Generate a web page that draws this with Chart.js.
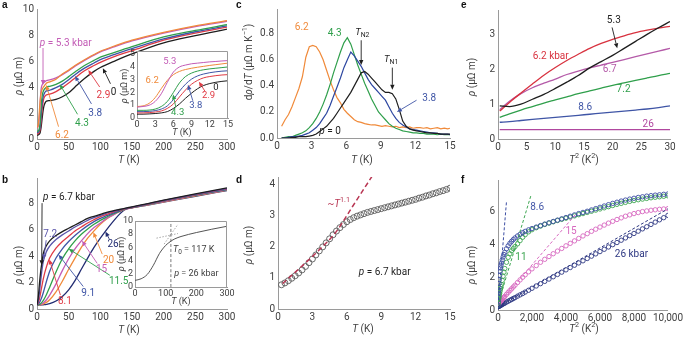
<!DOCTYPE html>
<html>
<head>
<meta charset="utf-8">
<script src="https://cdn.jsdelivr.net/npm/chart.js@4.4.1/dist/chart.umd.min.js"></script>
<style>
  body { margin: 0; background: #fff; }
  #fig { position: relative; width: 685px; height: 337px; overflow: hidden; background: #fff; }
  #fig canvas { position: absolute; left: 0; top: 0; }
  .tag { position: absolute; font: bold 10px 'Liberation Sans', Arial, sans-serif; color: #111; }
</style>
</head>
<body>
<div id="fig">
  <canvas id="pa" width="685" height="337"></canvas>
  <canvas id="pai" width="685" height="337"></canvas>
  <canvas id="pb" width="685" height="337"></canvas>
  <canvas id="pbi" width="685" height="337"></canvas>
  <canvas id="pc" width="685" height="337"></canvas>
  <canvas id="pd" width="685" height="337"></canvas>
  <canvas id="pe" width="685" height="337"></canvas>
  <canvas id="pf" width="685" height="337"></canvas>
  <div class="tag" style="left:2px;top:-1px">a</div>
  <div class="tag" style="left:2px;top:174px">b</div>
  <div class="tag" style="left:236px;top:-1px">c</div>
  <div class="tag" style="left:236px;top:174px">d</div>
  <div class="tag" style="left:461px;top:-1px">e</div>
  <div class="tag" style="left:461px;top:174px">f</div>
</div>
<script>
// ---- panel a: rho(T) at low pressure (inset = low-T part) ----
const aLoT = [0, 1, 2, 3, 4, 5, 6, 7, 8, 9, 10, 11, 12, 13, 14, 15];
const aLo0 = [0.3, 0.3, 0.32, 0.35, 0.4, 0.5, 0.75, 1.1, 1.55, 1.95, 2.3, 2.55, 2.7, 2.8, 2.87, 2.92];
const aLo29 = [0.4, 0.4, 0.42, 0.47, 0.55, 0.75, 1.1, 1.65, 2.2, 2.65, 2.95, 3.15, 3.25, 3.32, 3.37, 3.4];
const aLo38 = [0.5, 0.5, 0.52, 0.58, 0.7, 0.95, 1.45, 2.1, 2.65, 3.05, 3.3, 3.45, 3.55, 3.62, 3.67, 3.7];
const aLo43 = [0.6, 0.6, 0.62, 0.7, 0.9, 1.3, 2.0, 2.75, 3.25, 3.52, 3.68, 3.78, 3.85, 3.9, 3.95, 4.0];
const aLo53 = [0.85, 0.9, 1.0, 1.3, 1.9, 2.8, 3.6, 4.0, 4.15, 4.25, 4.3, 4.35, 4.4, 4.43, 4.47, 4.5];
const aLo62 = [0.9, 0.95, 1.15, 1.6, 2.3, 2.95, 3.4, 3.65, 3.8, 3.9, 3.98, 4.05, 4.12, 4.18, 4.24, 4.3];
const aHiT = [20, 30, 40, 50, 60, 75, 90, 100, 125, 150, 200, 250, 300];
const aHi0 = [2.95, 3.05, 3.25, 3.55, 4.0, 4.65, 5.2, 5.5, 6.05, 6.55, 7.4, 7.95, 8.45];
const aHi29 = [3.45, 3.65, 3.95, 4.3, 4.7, 5.25, 5.65, 5.9, 6.4, 6.8, 7.6, 8.15, 8.6];
const aHi38 = [3.75, 3.95, 4.2, 4.55, 4.95, 5.45, 5.85, 6.1, 6.55, 6.95, 7.7, 8.25, 8.7];
const aHi43 = [4.05, 4.2, 4.45, 4.8, 5.15, 5.65, 6.05, 6.3, 6.7, 7.1, 7.85, 8.35, 8.8];
const aHi53 = [4.55, 4.7, 4.95, 5.25, 5.6, 6.05, 6.45, 6.7, 7.15, 7.55, 8.15, 8.65, 9.05];
const aHi62 = [4.4, 4.6, 5.0, 5.3, 5.65, 6.1, 6.5, 6.75, 7.2, 7.6, 8.2, 8.7, 9.1];

// ---- panel b: rho(T) at high pressure ----
const bT = [0, 2, 4, 6, 8, 10, 15, 20, 30, 40, 50, 60, 70, 80, 90, 100, 110, 120, 130, 140, 150, 175, 200, 250, 300];
const b67 = [0.3, 0.9, 2.0, 2.9, 3.6, 4.2, 4.8, 5.15, 5.55, 5.85, 6.1, 6.35, 6.6, 6.85, 7.0, 7.15, 7.3, 7.42, 7.52, 7.62, 7.72, 7.97, 8.22, 8.7, 9.15];
const b72 = [0.3, 0.6, 1.3, 2.2, 3.0, 3.6, 4.35, 4.75, 5.25, 5.6, 5.9, 6.2, 6.45, 6.7, 6.9, 7.08, 7.25, 7.38, 7.5, 7.6, 7.7, 7.95, 8.2, 8.67, 9.1];
const b81 = [0.3, 0.45, 0.8, 1.3, 1.8, 2.3, 3.2, 3.85, 4.6, 5.1, 5.5, 5.9, 6.2, 6.5, 6.75, 6.98, 7.15, 7.32, 7.47, 7.58, 7.68, 7.93, 8.18, 8.65, 9.08];
const b91 = [0.3, 0.35, 0.5, 0.7, 0.95, 1.25, 2.1, 2.85, 3.85, 4.55, 5.1, 5.55, 5.95, 6.3, 6.6, 6.85, 7.05, 7.25, 7.42, 7.56, 7.67, 7.92, 8.17, 8.63, 9.05];
const b115 = [0.3, 0.3, 0.35, 0.42, 0.52, 0.65, 1.1, 1.65, 2.8, 3.8, 4.55, 5.15, 5.65, 6.05, 6.4, 6.7, 6.95, 7.18, 7.38, 7.55, 7.66, 7.9, 8.15, 8.6, 9.02];
const b15 = [0.3, 0.3, 0.32, 0.35, 0.4, 0.47, 0.7, 1.05, 1.9, 2.9, 3.8, 4.55, 5.15, 5.7, 6.15, 6.5, 6.85, 7.1, 7.35, 7.53, 7.65, 7.88, 8.12, 8.58, 9.0];
const b20 = [0.3, 0.3, 0.3, 0.32, 0.34, 0.38, 0.5, 0.7, 1.3, 2.1, 3.0, 3.85, 4.65, 5.35, 5.9, 6.4, 6.8, 7.1, 7.35, 7.55, 7.65, 7.87, 8.1, 8.55, 8.98];
const b26 = [0.3, 0.3, 0.3, 0.3, 0.31, 0.32, 0.35, 0.4, 0.6, 0.95, 1.45, 2.15, 3.0, 3.85, 4.65, 5.35, 6.0, 6.6, 7.15, 7.55, 7.66, 7.86, 8.08, 8.52, 8.95];
// inset b (26 kbar)
const biT = [0, 20, 40, 60, 80, 100, 110, 120, 130, 150, 200, 250, 300];
const biRho = [1.0, 1.25, 1.9, 3.3, 5.1, 6.3, 6.7, 7.05, 7.3, 7.65, 8.25, 8.75, 9.2];
const biT0 = [117, 117];
const biT0Rho = [0, 10];
const biLowT = [70, 140];
const biLow = [7.4, 8.1];
const biHighT = [95, 140];
const biHigh = [6.5, 9.5];

// ---- panel c: d rho / dT ----
const cT = [0.4, 0.7, 1.0, 1.3, 1.6, 1.9, 2.2, 2.5, 2.8, 3.1, 3.4, 3.7, 4.0, 4.3, 4.6, 4.9, 5.2, 5.5, 5.8, 6.1,
  6.4, 6.7, 7.0, 7.3, 7.6, 7.9, 8.2, 8.5, 8.8, 9.1, 9.4, 9.7, 10.0, 10.3, 10.6, 10.9, 11.2, 11.5, 11.8, 12.1,
  12.4, 12.7, 13.0, 13.3, 13.6, 13.9, 14.2, 14.5, 14.8, 15.0];
const c62 = [0.09, 0.14, 0.18, 0.24, 0.31, 0.38, 0.47, 0.62, 0.70, 0.71, 0.70, 0.66, 0.60, 0.52, 0.44, 0.37, 0.31, 0.27, 0.22, 0.19,
  0.165, 0.14, 0.125, 0.12, 0.11, 0.105, 0.10, 0.10, 0.095, 0.09, 0.095, 0.09, 0.085, 0.09, 0.08, 0.085, 0.08, 0.085, 0.075, 0.08,
  0.08, 0.075, 0.08, 0.07, 0.075, 0.08, 0.07, 0.075, 0.07, 0.075];
const c43 = [0.0, 0.005, 0.01, 0.01, 0.02, 0.03, 0.04, 0.055, 0.08, 0.11, 0.15, 0.2, 0.26, 0.33, 0.41, 0.5, 0.58, 0.66, 0.73, 0.77,
  0.72, 0.64, 0.56, 0.49, 0.42, 0.36, 0.3, 0.25, 0.2, 0.17, 0.14, 0.11, 0.09, 0.075, 0.065, 0.055, 0.05, 0.045, 0.04, 0.04,
  0.035, 0.035, 0.03, 0.03, 0.03, 0.025, 0.03, 0.025, 0.025, 0.025];
const c38 = [0.0, 0.0, 0.005, 0.01, 0.01, 0.015, 0.02, 0.03, 0.04, 0.06, 0.08, 0.11, 0.15, 0.19, 0.25, 0.32, 0.39, 0.46, 0.54, 0.6,
  0.66, 0.63, 0.59, 0.55, 0.5, 0.45, 0.41, 0.38, 0.35, 0.32, 0.29, 0.24, 0.19, 0.15, 0.12, 0.1, 0.085, 0.07, 0.065, 0.06,
  0.055, 0.05, 0.045, 0.04, 0.04, 0.035, 0.03, 0.03, 0.03, 0.025];
const c0 = [0.0, 0.0, 0.0, 0.005, 0.005, 0.01, 0.01, 0.01, 0.015, 0.02, 0.03, 0.05, 0.07, 0.09, 0.12, 0.15, 0.19, 0.23, 0.27, 0.31,
  0.35, 0.4, 0.45, 0.5, 0.51, 0.49, 0.46, 0.43, 0.4, 0.37, 0.35, 0.35, 0.34, 0.3, 0.22, 0.13, 0.09, 0.07, 0.06, 0.055,
  0.05, 0.045, 0.04, 0.04, 0.035, 0.035, 0.03, 0.03, 0.03, 0.03];

// ---- panel d: 6.7 kbar, low T ----
const dT = [0.3, 0.6, 0.9, 1.2, 1.5, 1.8, 2.1, 2.4, 2.7, 3.0, 3.3, 3.6, 3.9, 4.2, 4.5, 4.8, 5.1, 5.4, 5.7, 6.0,
  6.3, 6.6, 6.9, 7.2, 7.5, 7.8, 8.1, 8.4, 8.7, 9.0, 9.3, 9.6, 9.9, 10.2, 10.5, 10.8, 11.1, 11.4, 11.7, 12.0,
  12.3, 12.6, 12.9, 13.2, 13.5, 13.8, 14.1, 14.4, 14.7, 15.0];
const dRho = [0.78, 0.84, 0.91, 0.99, 1.07, 1.16, 1.26, 1.37, 1.49, 1.61, 1.74, 1.87, 2.0, 2.13, 2.26, 2.39, 2.51, 2.62, 2.72, 2.81,
  2.88, 2.94, 2.99, 3.03, 3.07, 3.11, 3.14, 3.17, 3.2, 3.23, 3.26, 3.29, 3.32, 3.35, 3.38, 3.41, 3.44, 3.47, 3.5, 3.53,
  3.57, 3.6, 3.64, 3.67, 3.71, 3.74, 3.78, 3.81, 3.85, 3.89];
const dFitT = [0.4, 2, 3.5, 5, 6.5, 8.6];
const dFit = [0.82, 1.35, 1.87, 2.45, 3.3, 4.5];

// ---- panel e: rho vs T^2 ----
const eX = [0.3, 2, 4, 6, 8, 10, 12, 14, 16, 18, 20, 22, 24, 26, 28, 30];
const e53 = [0.95, 0.93, 1.0, 1.14, 1.28, 1.45, 1.63, 1.82, 2.04, 2.22, 2.4, 2.6, 2.8, 3.0, 3.19, 3.37];
const e62 = [0.8, 1.05, 1.32, 1.58, 1.83, 2.05, 2.25, 2.43, 2.6, 2.74, 2.86, 2.96, 3.05, 3.12, 3.18, 3.23];
const e67 = [0.84, 1.08, 1.3, 1.47, 1.6, 1.72, 1.85, 1.95, 2.04, 2.12, 2.2, 2.28, 2.36, 2.44, 2.52, 2.6];
const e72 = [0.62, 0.72, 0.83, 0.93, 1.03, 1.12, 1.21, 1.3, 1.38, 1.46, 1.54, 1.61, 1.68, 1.75, 1.82, 1.88];
const e86 = [0.48, 0.5, 0.53, 0.56, 0.59, 0.62, 0.65, 0.68, 0.71, 0.74, 0.77, 0.8, 0.83, 0.86, 0.9, 0.95];
const e26 = [0.27, 0.27, 0.27, 0.27, 0.27, 0.27, 0.27, 0.27, 0.27, 0.27, 0.27, 0.27, 0.27, 0.27, 0.27, 0.27];

// ---- panel f: rho vs T^2, wide range ----
const fX = [0, 10, 20, 30, 40, 50, 65, 80, 100, 125, 150, 175, 200, 250, 300, 350, 400, 500, 600, 700,
  800, 900, 1000, 1150, 1300, 1450, 1600, 1800, 2000, 2250, 2500, 2750, 3000, 3250, 3500, 3750, 4000, 4250, 4500, 4750,
  5000, 5250, 5500, 5750, 6000, 6250, 6500, 6750, 7000, 7250, 7500, 7750, 8000, 8250, 8500, 8750, 9000, 9250, 9500, 9750, 10000];
const f86 = [0.3, 0.55, 0.8, 1.0, 1.2, 1.38, 1.62, 1.85, 2.1, 2.35, 2.55, 2.72, 2.85, 3.05, 3.22, 3.37, 3.5, 3.72, 3.9, 4.05,
  4.17, 4.28, 4.38, 4.5, 4.6, 4.7, 4.78, 4.87, 4.95, 5.04, 5.13, 5.22, 5.3, 5.38, 5.46, 5.54, 5.62, 5.7, 5.78, 5.86,
  5.93, 6.0, 6.08, 6.16, 6.24, 6.32, 6.4, 6.48, 6.55, 6.62, 6.68, 6.74, 6.79, 6.84, 6.88, 6.92, 6.95, 6.98, 7.0, 7.03, 7.05];
const f11 = [0.3, 0.38, 0.46, 0.54, 0.62, 0.7, 0.8, 0.9, 1.02, 1.17, 1.3, 1.43, 1.55, 1.8, 2.05, 2.3, 2.52, 2.9, 3.2, 3.42,
  3.6, 3.73, 3.85, 4.02, 4.22, 4.42, 4.58, 4.75, 4.88, 5.0, 5.1, 5.2, 5.28, 5.36, 5.44, 5.51, 5.58, 5.65, 5.72, 5.79,
  5.86, 5.93, 6.0, 6.07, 6.14, 6.21, 6.28, 6.35, 6.42, 6.48, 6.54, 6.6, 6.65, 6.7, 6.74, 6.78, 6.82, 6.85, 6.88, 6.91, 6.94];
const f15 = [0.35, 0.36, 0.37, 0.39, 0.4, 0.41, 0.43, 0.45, 0.47, 0.5, 0.53, 0.56, 0.59, 0.65, 0.71, 0.77, 0.83, 0.95, 1.07, 1.18,
  1.29, 1.4, 1.51, 1.67, 1.83, 1.99, 2.14, 2.32, 2.5, 2.7, 2.9, 3.08, 3.25, 3.42, 3.58, 3.74, 3.9, 4.05, 4.2, 4.35,
  4.5, 4.64, 4.78, 4.91, 5.04, 5.16, 5.28, 5.39, 5.5, 5.6, 5.7, 5.78, 5.86, 5.92, 5.98, 6.02, 6.06, 6.09, 6.12, 6.14, 6.16];
const f26 = [0.2, 0.21, 0.21, 0.22, 0.22, 0.23, 0.24, 0.25, 0.26, 0.27, 0.29, 0.3, 0.31, 0.34, 0.37, 0.4, 0.42, 0.48, 0.53, 0.59,
  0.64, 0.7, 0.75, 0.84, 0.92, 1.0, 1.09, 1.2, 1.32, 1.46, 1.6, 1.74, 1.88, 2.02, 2.16, 2.3, 2.44, 2.58, 2.72, 2.86,
  2.99, 3.13, 3.27, 3.41, 3.55, 3.69, 3.83, 3.97, 4.1, 4.24, 4.38, 4.52, 4.65, 4.79, 4.93, 5.06, 5.2, 5.34, 5.48, 5.61, 5.75];
const fFit86X = [0, 500], fFit86 = [0.3, 6.6];
const fFit11X = [0, 1950], fFit11 = [0.35, 7.0];
const fFit15X = [0, 4600], fFit15 = [0.35, 5.85];
const fFit26X = [0, 10000], fFit26 = [0.2, 6.15];

// ---- drawing ----
const W = 685, H = 337;
const FONT = 'Roboto, "Liberation Sans", sans-serif';
const AXIS = '#9a9a9a', INK = '#404040';
const BLACK = '#1e1e1e', RED = '#e03a44', BLUE = '#3f55a6', GREEN = '#2f9f4b', MAG = '#c35cb6',
  ORANGE = '#f08a3a', NAVY = '#222c72', PURPLE = '#5a55aa', CRIMSON = '#b83552';

const pts = (xs, ys) => xs.map((x, i) => ({ x, y: ys[i] }));
const curve = (xs, ys, color, extra) => Object.assign({
  data: pts(xs, ys), borderColor: color, borderWidth: 1.3, pointRadius: 0, cubicInterpolationMode: 'monotone'
}, extra || {});
const rings = (xs, ys, color, r) => ({
  data: pts(xs, ys), showLine: false, borderColor: color, pointBorderColor: color,
  pointBackgroundColor: 'rgba(0,0,0,0)', pointRadius: r, pointBorderWidth: 0.9
});

// *x* italic, ^x^ superscript, _x_ subscript
function rich(ctx, str, x, y, o) {
  const size = o.fs || 10;
  const segs = str.split(/(\*[^*]+\*|\^[^^]+\^|_[^_]+_)/).filter(Boolean).map(s => {
    const k = s[0];
    const mark = k === '*' || k === '^' || k === '_';
    const txt = mark ? s.slice(1, -1) : s;
    const small = k === '^' || k === '_';
    const font = (k === '*' ? 'italic ' : '') + (small ? size * 0.72 : size) + 'px ' + FONT;
    ctx.font = font;
    return { txt, font, w: ctx.measureText(txt).width, dy: k === '^' ? -size * 0.35 : k === '_' ? size * 0.28 : 0 };
  });
  const total = segs.reduce((s, g) => s + g.w, 0);
  ctx.save();
  ctx.translate(x, y);
  if (o.rot) ctx.rotate(o.rot);
  let px = o.al === 'left' ? 0 : o.al === 'right' ? -total : -total / 2;
  ctx.fillStyle = o.c || INK;
  ctx.textBaseline = 'middle';
  ctx.textAlign = 'left';
  segs.forEach(g => { ctx.font = g.font; ctx.fillText(g.txt, px, g.dy); px += g.w; });
  ctx.restore();
}

function arrow(ctx, x1, y1, x2, y2, color) {
  const a = Math.atan2(y2 - y1, x2 - x1), h = 5, w = 2.2;
  const bx = x2 - h * Math.cos(a), by = y2 - h * Math.sin(a);
  ctx.strokeStyle = color; ctx.fillStyle = color; ctx.lineWidth = 0.9;
  ctx.beginPath(); ctx.moveTo(x1, y1); ctx.lineTo(bx, by); ctx.stroke();
  ctx.beginPath(); ctx.moveTo(x2, y2);
  ctx.lineTo(bx + w * Math.sin(a), by - w * Math.cos(a));
  ctx.lineTo(bx - w * Math.sin(a), by + w * Math.cos(a));
  ctx.closePath(); ctx.fill();
}

function panel(id, box, xs, ys, sets, e) {
  const [l, t, r, b] = box;
  const yw = e.yw || 30, xh = e.xh || 16, fs = e.fs || 10;
  const axis = (s, vertical) => ({
    type: 'linear', min: s.min, max: s.max,
    grid: { display: false, drawTicks: false },
    border: { color: AXIS, width: 1 },
    ticks: {
      stepSize: s.step, includeBounds: false, autoSkip: false, maxRotation: 0,
      padding: vertical ? (e.pad || 3) : (e.xpad || 2), color: INK, font: { family: FONT, size: fs },
      callback: s.fmt || (v => String(v))
    },
    afterFit: sc => { if (vertical) sc.width = yw; else sc.height = xh; }
  });
  const notes = {
    id: 'notes',
    beforeDraw(chart) {
      if (!e.frame) return;
      const a = chart.chartArea, c = chart.ctx;
      c.save(); c.fillStyle = '#fff'; c.fillRect(a.left, a.top, a.right - a.left, a.bottom - a.top); c.restore();
    },
    afterDraw(chart) {
      const c = chart.ctx, a = chart.chartArea, sx = chart.scales.x, sy = chart.scales.y;
      c.save();
      if (e.frame) {
        c.strokeStyle = AXIS; c.lineWidth = 1;
        c.beginPath();
        c.moveTo(a.left, a.top + 0.5); c.lineTo(a.right - 0.5, a.top + 0.5); c.lineTo(a.right - 0.5, a.bottom);
        c.stroke();
      }
      (e.arrows || []).forEach(q => arrow(c, sx.getPixelForValue(q[0]), sy.getPixelForValue(q[1]),
        sx.getPixelForValue(q[2]), sy.getPixelForValue(q[3]), q[4]));
      (e.texts || []).forEach(q => rich(c, q.t, sx.getPixelForValue(q.x), sy.getPixelForValue(q.y), q));
      (e.titles || []).forEach(q => rich(c, q.t, q.px, q.py, q));
      c.restore();
    }
  };
  return new Chart(document.getElementById(id), {
    type: 'line',
    data: { datasets: sets },
    options: {
      responsive: false, animation: false, events: [],
      layout: { autoPadding: false, padding: { left: l - yw, top: t, right: W - r, bottom: H - b - xh } },
      plugins: { legend: { display: false }, tooltip: { enabled: false } },
      scales: { x: axis(xs, false), y: axis(ys, true) }
    },
    plugins: [notes]
  });
}

const RHO = '*ρ* (μΩ m)';
const YROT = -Math.PI / 2;

// a
const aT = aLoT.concat(aHiT);
panel('pa', [37, 8, 227, 139], { min: 0, max: 300, step: 50 }, { min: 0, max: 10, step: 2 }, [
  curve(aT, aLo62.concat(aHi62), ORANGE),
  curve(aT, aLo53.concat(aHi53), MAG),
  curve(aT, aLo43.concat(aHi43), GREEN),
  curve(aT, aLo38.concat(aHi38), BLUE),
  curve(aT, aLo29.concat(aHi29), RED),
  curve(aT, aLo0.concat(aHi0), BLACK)
], {
  texts: [
    { x: 4.5, y: 7.33, t: '*p* = 5.3 kbar', c: MAG, al: 'left' },
    { x: 39.5, y: 0.3, t: '6.2', c: ORANGE },
    { x: 71, y: 1.2, t: '4.3', c: GREEN },
    { x: 92, y: 2.0, t: '3.8', c: BLUE },
    { x: 105, y: 3.36, t: '2.9', c: RED },
    { x: 121, y: 3.56, t: '0', c: BLACK }
  ],
  arrows: [
    [9.5, 7.0, 9.5, 4.15, MAG],
    [34, 0.95, 14.5, 4.15, ORANGE],
    [64, 1.9, 36, 4.2, GREEN],
    [86, 2.7, 60, 4.85, BLUE],
    [99, 4.0, 81, 5.3, RED],
    [116, 4.25, 104, 5.45, BLACK]
  ],
  titles: [
    { px: 19, py: 76, t: RHO, rot: YROT },
    { px: 129, py: 160, t: '*T* (K)' }
  ]
});
panel('pai', [137, 51, 228, 118], { min: 0, max: 15, step: 3 }, { min: 0, max: 5.25, step: 1 }, [
  curve(aLoT, aLo53, MAG, { borderWidth: 1 }),
  curve(aLoT, aLo62, ORANGE, { borderWidth: 1 }),
  curve(aLoT, aLo43, GREEN, { borderWidth: 1 }),
  curve(aLoT, aLo38, BLUE, { borderWidth: 1 }),
  curve(aLoT, aLo29, RED, { borderWidth: 1 }),
  curve(aLoT, aLo0, BLACK, { borderWidth: 1 })
], {
  frame: true, yw: 12, xh: 12, fs: 9, pad: 2, xpad: 1,
  texts: [
    { x: 5.4, y: 4.45, t: '5.3', c: MAG, fs: 9.5 },
    { x: 2.5, y: 2.9, t: '6.2', c: ORANGE, fs: 9.5 },
    { x: 6.7, y: 0.45, t: '4.3', c: GREEN, fs: 9.5 },
    { x: 9.7, y: 1.0, t: '3.8', c: BLUE, fs: 9.5 },
    { x: 11.8, y: 1.75, t: '2.9', c: RED, fs: 9.5 },
    { x: 13.0, y: 2.4, t: '0', c: BLACK, fs: 9.5 }
  ],
  arrows: [
    [6.4, 0.85, 5.95, 1.85, GREEN],
    [9.2, 1.35, 8.4, 2.6, BLUE],
    [11.2, 2.1, 10.2, 2.85, RED]
  ],
  titles: [
    { px: 125, py: 86, t: RHO, rot: YROT, fs: 9 },
    { px: 182, py: 133, t: '*T* (K)', fs: 9 }
  ]
});

// b
panel('pb', [37, 178, 227, 309], { min: 0, max: 300, step: 50 }, { min: 0, max: 9.9, step: 2 }, [
  curve(bT, b67, BLACK),
  curve(bT, b72, PURPLE),
  curve(bT, b81, RED),
  curve(bT, b91, BLUE),
  curve(bT, b115, GREEN),
  curve(bT, b15, MAG),
  curve(bT, b20, ORANGE),
  curve(bT, b26, NAVY)
], {
  texts: [
    { x: 9.5, y: 8.4, t: '*p* = 6.7 kbar', c: BLACK, al: 'left' },
    { x: 21, y: 5.6, t: '7.2', c: PURPLE },
    { x: 44, y: 0.55, t: '8.1', c: RED },
    { x: 81, y: 1.2, t: '9.1', c: BLUE },
    { x: 129, y: 2.06, t: '11.5', c: GREEN },
    { x: 102, y: 2.95, t: '15', c: MAG },
    { x: 113, y: 3.7, t: '20', c: ORANGE },
    { x: 120, y: 4.85, t: '26', c: NAVY }
  ],
  arrows: [
    [8, 8.0, 7.4, 3.3, BLACK],
    [14.5, 5.2, 10.5, 3.75, PURPLE],
    [37, 1.05, 19.5, 3.75, RED],
    [73, 1.7, 34, 4.1, BLUE],
    [115, 2.55, 50, 4.55, GREEN],
    [95, 3.45, 71, 5.15, MAG],
    [103, 4.15, 89, 5.8, ORANGE],
    [114, 5.3, 108, 5.85, NAVY]
  ],
  titles: [
    { px: 19, py: 265, t: RHO, rot: YROT },
    { px: 129, py: 330, t: '*T* (K)' }
  ]
});
panel('pbi', [135, 221, 227, 287], { min: 0, max: 300, step: 100 }, { min: 0, max: 10, step: 2 }, [
  curve(biT, biRho, '#555', { borderWidth: 1 }),
  curve(biT0, biT0Rho, '#555', { borderWidth: 0.8, borderDash: [3, 2] }),
  curve(biLowT, biLow, '#aaa', { borderWidth: 1, borderDash: [1.5, 1.5] }),
  curve(biHighT, biHigh, '#aaa', { borderWidth: 1, borderDash: [1.5, 1.5] })
], {
  frame: true, yw: 14, xh: 12, fs: 9, pad: 2, xpad: 1,
  texts: [
    { x: 124, y: 5.6, t: '*T*_0_ = 117 K', c: INK, al: 'left', fs: 9 },
    { x: 200, y: 2.0, t: '*p* = 26 kbar', c: INK, fs: 9 }
  ],
  titles: [
    { px: 122, py: 254, t: RHO, rot: YROT, fs: 9 },
    { px: 181, py: 302, t: '*T* (K)', fs: 9 }
  ]
});

// c
panel('pc', [277, 7, 450, 138], { min: 0, max: 15, step: 3 }, { min: 0, max: 0.99, step: 0.2, fmt: v => v.toFixed(1) }, [
  curve(cT, c0, BLACK, { borderWidth: 1.2, cubicInterpolationMode: 'default', tension: 0 }),
  curve(cT, c38, '#2c46a0', { borderWidth: 1.2, cubicInterpolationMode: 'default', tension: 0 }),
  curve(cT, c43, GREEN, { borderWidth: 1.2, cubicInterpolationMode: 'default', tension: 0 }),
  curve(cT, c62, ORANGE, { borderWidth: 1.2, cubicInterpolationMode: 'default', tension: 0 })
], {
  yw: 32,
  texts: [
    { x: 2.15, y: 0.85, t: '6.2', c: ORANGE },
    { x: 5.0, y: 0.8, t: '4.3', c: GREEN },
    { x: 7.4, y: 0.81, t: '*T*_N2_', c: BLACK, fs: 9.5 },
    { x: 9.9, y: 0.6, t: '*T*_N1_', c: BLACK, fs: 9.5 },
    { x: 13.2, y: 0.3, t: '3.8', c: BLUE },
    { x: 4.6, y: 0.05, t: '*p* = 0', c: BLACK }
  ],
  arrows: [
    [7.3, 0.75, 7.3, 0.56, BLACK],
    [10.0, 0.54, 10.0, 0.37, BLACK],
    [12.1, 0.29, 10.4, 0.2, BLUE]
  ],
  titles: [
    { px: 249, py: 62, t: 'd*ρ*/d*T* (μΩ m K^−1^)', rot: YROT },
    { px: 362, py: 160, t: '*T* (K)' }
  ]
});

// d
panel('pd', [278, 177, 450, 309], { min: 0, max: 15, step: 3 }, { min: 0, max: 4.25, step: 1 }, [
  curve(dFitT, dFit, CRIMSON, { borderWidth: 1.5, borderDash: [5, 3] }),
  rings(dT, dRho, '#5a5a5a', 3)
], {
  texts: [
    { x: 5.3, y: 3.38, t: '~*T*^1.1^', c: CRIMSON },
    { x: 9.3, y: 1.16, t: '*p* = 6.7 kbar', c: BLACK }
  ],
  titles: [
    { px: 249, py: 245, t: RHO, rot: YROT },
    { px: 363, py: 329, t: '*T* (K)' }
  ]
});

// e
panel('pe', [498, 10, 670, 139], { min: 0, max: 30, step: 5 }, { min: 0, max: 3.7, step: 1 }, [
  curve(eX, e53, BLACK),
  curve(eX, e62, '#d8323f'),
  curve(eX, e67, '#b45aa8'),
  curve(eX, e72, GREEN),
  curve(eX, e86, BLUE),
  curve(eX, e26, '#b0479f')
], {
  texts: [
    { x: 20.2, y: 3.4, t: '5.3', c: BLACK },
    { x: 9.2, y: 2.37, t: '6.2 kbar', c: '#d8323f' },
    { x: 19.5, y: 1.99, t: '6.7', c: '#b45aa8' },
    { x: 21.9, y: 1.41, t: '7.2', c: GREEN },
    { x: 15.2, y: 0.9, t: '8.6', c: BLUE },
    { x: 26.2, y: 0.43, t: '26', c: '#b0479f' }
  ],
  arrows: [[19.9, 3.2, 20.8, 2.6, BLACK]],
  titles: [
    { px: 472, py: 77, t: RHO, rot: YROT },
    { px: 584, py: 160, t: '*T*^2^ (K^2^)' }
  ]
});

// f
const comma = v => v >= 1000 ? (v / 1000) + ',000' : String(v);
panel('pf', [498, 180, 673, 310], { min: 0, max: 10000, step: 2000, fmt: comma }, { min: 0, max: 7.9, step: 2 }, [
  curve(fFit86X, fFit86, '#3c4ea3', { borderWidth: 1, borderDash: [3, 2] }),
  curve(fFit11X, fFit11, '#3ea652', { borderWidth: 1, borderDash: [3, 2] }),
  curve(fFit15X, fFit15, '#d768bf', { borderWidth: 1, borderDash: [3, 2] }),
  curve(fFit26X, fFit26, '#2e3882', { borderWidth: 1, borderDash: [3, 2] }),
  rings(fX, f86, '#3c4ea3', 2.2),
  rings(fX, f11, '#3ea652', 2.2),
  rings(fX, f15, '#d768bf', 2.2),
  rings(fX, f26, '#2e3882', 2.2)
], {
  texts: [
    { x: 2300, y: 6.25, t: '8.6', c: '#4457a8' },
    { x: 1350, y: 3.2, t: '11', c: '#3ea652' },
    { x: 4300, y: 4.75, t: '15', c: '#d768bf' },
    { x: 7850, y: 3.35, t: '26 kbar', c: '#2e3882' }
  ],
  titles: [
    { px: 472, py: 265, t: RHO, rot: YROT },
    { px: 584, py: 329, t: '*T*^2^ (K^2^)' }
  ]
});
</script>
</body>
</html>
